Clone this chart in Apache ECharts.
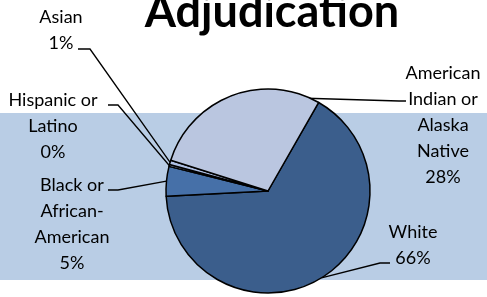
<!DOCTYPE html>
<html>
<head>
<meta charset="utf-8">
<script src="https://cdn.jsdelivr.net/npm/echarts@6/dist/echarts.min.js"></script>
<style>
  html, body { margin: 0; padding: 0; background: #fff; }
  #chart { width: 487px; height: 297px; }
</style>
</head>
<body>
<div id="chart"></div>
<script>
// 数据
const categories = ['White', 'Black or\nAfrican-\nAmerican', 'Hispanic or\nLatino', 'Asian', 'American\nIndian or\nAlaska\nNative'];
const shares = [65.9, 4.7, 0.3, 0.7, 28.4];
const colors = ['#3b5e8c', '#4670a8', '#a9bbe0', '#aebfe2', '#bac6e0'];

// label placement (center of text block) and leader line bend/end points
const labelPos = [
  { x: 413, y: 245, bend: [380, 263], end: [390, 263] },
  { x: 72, y: 224, bend: [118, 190], end: [108, 190] },
  { x: 53, y: 126, bend: [118, 105], end: [108, 105] },
  { x: 61, y: 30, bend: [90, 49], end: [78, 49] },
  { x: 443, y: 125, bend: [399, 101], end: [406, 101] }
];

const chart = echarts.init(document.getElementById('chart'));
const option = {
  animation: false,
  title: {
    text: 'Adjudication',
    left: 267,
    textAlign: 'center',
    top: -15,
    textStyle: {
      fontFamily: 'Lato',
      fontWeight: 'bold',
      fontSize: 45,
      color: '#000'
    }
  },
  graphic: [
    {
      type: 'rect',
      z: -1,
      shape: { x: 0, y: 113, width: 487, height: 167 },
      style: { fill: '#b9cde5' }
    }
  ],
  series: [
    {
      type: 'pie',
      center: [268, 191],
      radius: 102,
      startAngle: 60.2,
      clockwise: true,
      avoidLabelOverlap: false,
      percentPrecision: 0,
      itemStyle: {
        borderColor: '#000',
        borderWidth: 1.5
      },
      label: {
        show: true,
        formatter: '{b}\n{d}%',
        fontFamily: 'Lato',
        fontSize: 18,
        lineHeight: 26,
        color: '#000'
      },
      labelLine: {
        show: true,
        lineStyle: { color: '#000', width: 1.3 }
      },
      labelLayout: function (params) {
        const p = labelPos[params.dataIndex];
        const start = params.labelLinePoints ? params.labelLinePoints[0].slice() : p.bend;
        return {
          x: p.x,
          y: p.y,
          align: 'center',
          verticalAlign: 'middle',
          labelLinePoints: [start, p.bend, p.end]
        };
      },
      data: categories.map(function (name, i) {
        return { name: name, value: shares[i], itemStyle: { color: colors[i] } };
      })
    }
  ]
};
chart.setOption(option);
</script>
</body>
</html>
